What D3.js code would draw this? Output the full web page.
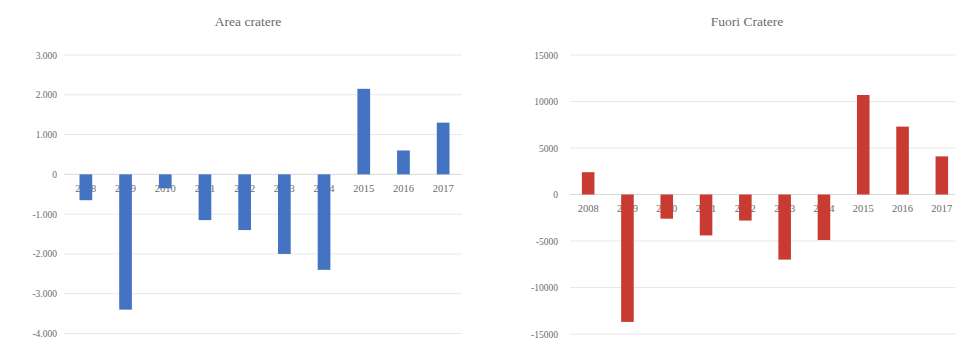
<!DOCTYPE html>
<html><head><meta charset="utf-8">
<script src="https://cdn.jsdelivr.net/npm/d3@7"></script>
<style>
body{margin:0;background:#fff;}
svg{display:block;}
text{font-family:"Liberation Serif","DejaVu Serif",serif;fill:#6b6b6b;}
</style></head>
<body>
<svg id="c" width="955" height="338"></svg>
<script>
const years = ["2008","2009","2010","2011","2012","2013","2014","2015","2016","2017"];
const areaCratere = [-650,-3400,-350,-1150,-1400,-2000,-2400,2150,600,1300];
const fuoriCratere = [2400,-13700,-2600,-4400,-2800,-7000,-4900,10700,7300,4100];
const areaTicks = [3000,2000,1000,0,-1000,-2000,-3000,-4000];
const fuoriTicks = [15000,10000,5000,0,-5000,-10000,-15000];

const svg = d3.select("#c");
const itLocale = d3.formatLocale({decimal:",", thousands:".", grouping:[3], currency:["","€"], minus:"-"});
const plainLocale = d3.formatLocale({decimal:".", thousands:"", grouping:[3], currency:["",""], minus:"-"});
const itFmt = itLocale.format(",d");
const plainFmt = plainLocale.format("d");

function panel(o){
  const g = svg.append("g");
  const x = d3.scaleBand().domain(years).range(o.xr).paddingInner(0.68).paddingOuter(0.34);
  const y = d3.scaleLinear().domain(o.dom).range(o.yr);
  // gridlines
  g.selectAll("line.grid").data(o.ticks).enter().append("line")
    .attr("x1", o.gx[0]).attr("x2", o.gx[1])
    .attr("y1", d => y(d)).attr("y2", d => y(d))
    .attr("stroke", d => d === 0 ? "#d9d9d9" : "#e8e8e8").attr("stroke-width", 1);
  // y labels
  const ya = d3.axisLeft(y).tickValues(o.ticks).tickFormat(o.fmt).tickSize(0).tickPadding(0);
  const yg = g.append("g").attr("transform", `translate(${o.ylx},0)`).call(ya);
  yg.select(".domain").remove();
  yg.selectAll("text").attr("font-size", "9.5px").attr("fill", "#808080").style("font-family", '"Liberation Serif",serif');
  // x labels
  const xa = d3.axisBottom(x).tickSize(0).tickPadding(0);
  const xg = g.append("g").attr("transform", `translate(0,${y(0) + 10})`).call(xa);
  xg.select(".domain").remove();
  xg.selectAll("text").attr("font-size", "10.5px").attr("fill", "#808080").style("font-family", '"Liberation Serif",serif');
  // bars
  g.selectAll("rect").data(o.vals).enter().append("rect")
    .attr("x", (d, i) => x(years[i]))
    .attr("width", x.bandwidth())
    .attr("y", d => y(Math.max(0, d)))
    .attr("height", d => Math.abs(y(d) - y(0)))
    .attr("fill", o.color);
  // title
  g.append("text").attr("x", o.tx).attr("y", 26).attr("text-anchor", "middle")
    .attr("font-size", "13.5px").attr("fill", "#6e6e6e").text(o.title);
}

panel({title:"Area cratere", vals:areaCratere, ticks:areaTicks, fmt:itFmt,
  dom:[-4000,3000], yr:[333.5,55], xr:[66,463], gx:[64,462], ylx:57,
  color:"#4373c2", tx:248});
panel({title:"Fuori Cratere", vals:fuoriCratere, ticks:fuoriTicks, fmt:plainFmt,
  dom:[-15000,15000], yr:[334,55], xr:[568.5,961.5], gx:[570,955], ylx:558,
  color:"#c93a32", tx:747});
</script>
</body></html>
